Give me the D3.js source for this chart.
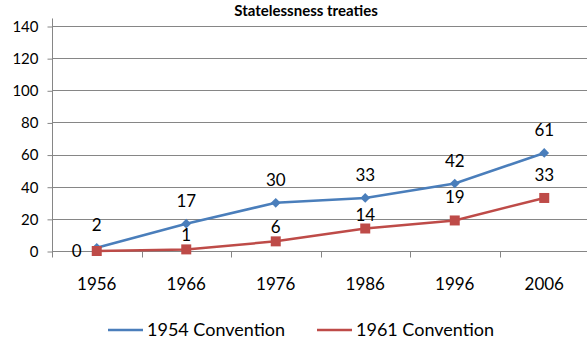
<!DOCTYPE html>
<html>
<head>
<meta charset="utf-8">
<script src="https://cdn.jsdelivr.net/npm/d3@7"></script>
<style>
  html, body { margin: 0; padding: 0; background: #fff; }
  svg { display: block; font-family: Lato, "Open Sans", sans-serif; }
</style>
</head>
<body>
<svg id="chart" width="587" height="339"></svg>
<script>
// Signatory counts per decade for the two statelessness conventions
const years = ["1956", "1966", "1976", "1986", "1996", "2006"];
const convention1954 = [2, 17, 30, 33, 42, 61];
const convention1961 = [0, 1, 6, 14, 19, 33];
const yTicks = [0, 20, 40, 60, 80, 100, 120, 140];
const seriesNames = ["1954 Convention", "1961 Convention"];

// label placement per point: "above", "high" (further above) or "left"
const labelPos1954 = ["high", "high", "high", "high", "high", "high"];
const labelPos1961 = ["left", "above", "above", "above", "high", "high"];

const svg = d3.select("#chart");

const x = d3.scaleBand().domain(years).range([52, 589]).padding(0);
const y = d3.scaleLinear().domain([0, 140]).range([251, 26]);

const gridColor = "#868686";

// title, squeezed into the strip above the top gridline
svg.append("text")
  .attr("x", 306).attr("y", 16)
  .attr("text-anchor", "middle")
  .attr("font-weight", "bold")
  .attr("font-size", 15)
  .text("Statelessness treaties");

// horizontal gridlines
svg.append("g")
  .selectAll("line")
  .data(yTicks.filter(d => d > 0))
  .join("line")
  .attr("x1", 52).attr("x2", 589)
  .attr("y1", d => Math.round(y(d)) + 0.5)
  .attr("y2", d => Math.round(y(d)) + 0.5)
  .attr("stroke", gridColor).attr("stroke-width", 1);

// y axis
const yAxis = d3.axisLeft(y).tickValues(yTicks).tickSize(5).tickPadding(9);
const gy = svg.append("g").attr("transform", "translate(52.5,0.5)").call(yAxis);
gy.select(".domain").attr("stroke", gridColor).attr("d", `M0,${y(0)}V${y(145)}`);
gy.selectAll(".tick line").attr("stroke", gridColor);
gy.selectAll(".tick text").attr("font-size", 15).attr("fill", "#000")
  .attr("font-family", "Lato, sans-serif");

// x axis with ticks between categories
const gx = svg.append("g").attr("transform", `translate(0,${Math.round(y(0)) + 0.5})`);
gx.append("line").attr("x1", 52).attr("x2", 589).attr("stroke", gridColor);
const boundaries = years.map(d => x(d)).concat([x.range()[1]]);
gx.selectAll("line.tk").data(boundaries).join("line").attr("class", "tk")
  .attr("x1", d => Math.round(d) + 0.5).attr("x2", d => Math.round(d) + 0.5)
  .attr("y1", 0).attr("y2", 6).attr("stroke", gridColor);
gx.selectAll("text").data(years).join("text")
  .attr("x", d => x(d) + x.bandwidth() / 2)
  .attr("y", 38)
  .attr("text-anchor", "middle")
  .attr("font-size", 17)
  .text(d => d);

const cx = (d, i) => x(years[i]) + x.bandwidth() / 2;

const blue = "#4A7EBB", red = "#BE4B48";
const line = d3.line().x((d, i) => cx(d, i)).y(d => y(d));

// 1954 Convention series
svg.append("path").datum(convention1954)
  .attr("d", line).attr("fill", "none").attr("stroke", blue).attr("stroke-width", 2.5);
svg.append("g").selectAll("path").data(convention1954).join("path")
  .attr("d", d3.symbol(d3.symbolDiamond2, 60))
  .attr("transform", (d, i) => `translate(${cx(d, i)},${y(d)})`)
  .attr("fill", blue);

// 1961 Convention series
svg.append("path").datum(convention1961)
  .attr("d", line).attr("fill", "none").attr("stroke", red).attr("stroke-width", 2.5);
svg.append("g").selectAll("rect").data(convention1961).join("rect")
  .attr("x", (d, i) => cx(d, i) - 5).attr("y", d => y(d) - 5)
  .attr("width", 10).attr("height", 10)
  .attr("fill", red);

// value labels
function labels(values, pos) {
  svg.append("g").selectAll("text").data(values).join("text")
    .attr("x", (d, i) => pos[i] === "left" ? cx(d, i) - 20 : cx(d, i))
    .attr("y", (d, i) => {
      const p = pos[i];
      if (p === "left") return y(d) + 6;
      if (p === "above") return y(d) - 8;
      return y(d) - 17;
    })
    .attr("text-anchor", "middle")
    .attr("font-size", 17)
    .attr("fill", "#000")
    .text(d => d);
}
labels(convention1954, labelPos1954);
labels(convention1961, labelPos1961);

// legend
const legend = svg.append("g").attr("transform", "translate(0,330)");
const legendItems = [
  { name: seriesNames[0], color: blue, x: 108 },
  { name: seriesNames[1], color: red, x: 317 }
];
legendItems.forEach(it => {
  legend.append("line").attr("x1", it.x).attr("x2", it.x + 35)
    .attr("y1", 0).attr("y2", 0).attr("stroke", it.color).attr("stroke-width", 2.5);
  legend.append("text").attr("x", it.x + 39).attr("y", 5.5)
    .attr("font-size", 18).text(it.name);
});
</script>
</body>
</html>
